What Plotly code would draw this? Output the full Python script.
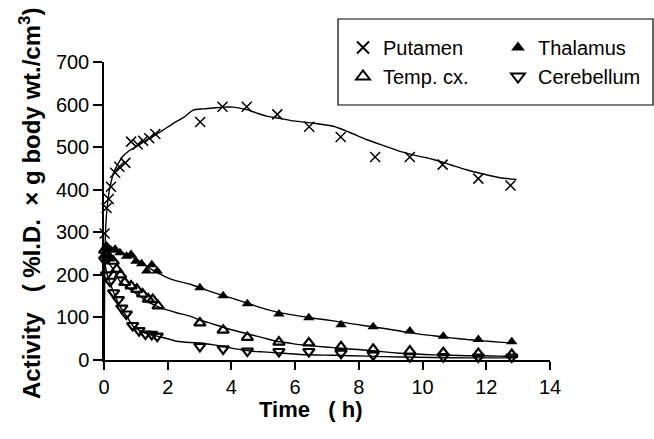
import plotly.graph_objects as go

# ---- measured data (time in h, activity in %I.D. x g body wt./cm^3) ----
put_t = [0.02, 0.08, 0.15, 0.22, 0.35, 0.48, 0.67, 0.85, 1.06, 1.23, 1.42, 1.61,
         3.02, 3.72, 4.48, 5.44, 6.44, 7.43, 8.51, 9.60, 10.63, 11.75, 12.76]
put_v = [297, 357, 378, 407, 440, 454, 463, 513, 506, 515, 521, 531,
         559, 595, 595, 577, 548, 524, 477, 477, 459, 426, 410]

thal_t = [0.02, 0.08, 0.15, 0.22, 0.35, 0.5, 0.71, 0.85, 1.0, 1.18, 1.34, 1.5, 1.67,
          3.01, 3.74, 4.50, 5.49, 6.43, 7.44, 8.45, 9.60, 10.65, 11.75, 12.8]
thal_v = [262, 268, 262, 258, 260, 252, 244, 248, 232, 226, 209, 224, 209,
          170, 151, 132, 108, 99, 83, 78, 68, 56, 48, 43]

temp_t = [0.02, 0.08, 0.15, 0.29, 0.40, 0.52, 0.65, 0.85, 1.03, 1.21, 1.39, 1.53, 1.70,
          3.01, 3.74, 4.50, 5.49, 6.43, 7.44, 8.45, 9.60, 10.65, 11.75, 12.8]
temp_v = [258, 250, 240, 232, 213, 200, 182, 174, 166, 155, 143, 142, 127,
          87, 70, 53, 42, 40, 31, 25, 21, 17, 15, 13]

cer_t = [0.02, 0.08, 0.19, 0.30, 0.45, 0.56, 0.70, 0.90, 1.10, 1.30, 1.50, 1.67,
         3.01, 3.74, 4.50, 5.49, 6.43, 7.44, 8.45, 9.60, 10.65, 11.75, 12.8]
cer_v = [235, 200, 185, 158, 142, 122, 108, 81, 69, 61, 60, 56,
         32, 26, 21, 20, 20, 16, 12, 8, 8, 7, 7]

# ---- fitted curves ----
put_fit_t = [0, 0.03, 0.06, 0.1, 0.15, 0.2, 0.3, 0.45, 0.6, 0.8, 1.03, 1.3, 1.55, 1.85,
             2.18, 2.5, 2.8, 3.1, 3.43, 3.75, 4.06, 4.48, 4.8, 5.1, 5.5, 5.84, 6.15,
             6.6, 7.2, 7.7, 8.24, 8.8, 9.29, 9.8, 10.34, 10.9, 11.38, 11.9, 12.43, 12.95]
put_fit_v = [0, 250, 320, 360, 390, 410, 440, 462, 479, 492, 502, 515, 526, 540,
             556, 570, 587, 590, 592, 594, 594, 588, 580, 573, 568, 563, 560,
             556, 549, 535, 518, 503, 490, 480, 471, 458, 447, 437, 428, 424]

thal_fit_t = [0, 0.03, 0.1, 0.2, 0.4, 0.71, 1.03, 1.34, 1.67, 2.0, 2.28, 2.7, 3.01, 3.5,
              4.06, 4.6, 5.1, 5.6, 6.15, 6.7, 7.2, 7.7, 8.24, 8.8, 9.29, 9.8, 10.34,
              10.9, 11.4, 11.9, 12.4, 12.95]
thal_fit_v = [0, 250, 266, 264, 256, 248, 236, 220, 205, 193, 186, 178, 170, 157,
              144, 131, 119, 110, 103, 97, 92, 86, 80, 74, 68, 62, 57,
              52, 48, 45, 42, 39]

temp_fit_t = [0, 0.03, 0.08, 0.18, 0.29, 0.5, 0.82, 1.13, 1.44, 1.67, 2.0, 2.28, 2.7,
              3.01, 3.4, 3.74, 4.15, 4.58, 5.0, 5.42, 5.8, 6.15, 6.7, 7.2, 7.7, 8.24,
              8.8, 9.29, 9.8, 10.34, 10.9, 11.4, 11.9, 12.4, 12.95]
temp_fit_v = [0, 250, 240, 225, 213, 185, 166, 150, 134, 126, 117, 111, 103,
              94, 85, 77, 68, 60, 52, 44, 40, 36, 32, 29, 26, 23,
              19, 16, 14, 12, 11, 10, 10, 9, 9]

cer_fit_t = [0, 0.03, 0.1, 0.19, 0.35, 0.5, 0.71, 0.92, 1.1, 1.23, 1.45, 1.67, 2.0,
             2.28, 2.7, 3.01, 3.4, 3.74, 4.15, 4.58, 5.0, 5.42, 6.15, 7.2, 8.24, 9.29,
             10.34, 11.4, 12.4, 12.95]
cer_fit_v = [0, 225, 200, 181, 150, 126, 103, 79, 70, 65, 60, 56, 50,
             44, 41, 40, 36, 32, 26, 21, 19, 17, 13, 11, 9, 7,
             6, 5, 5, 5]

x_ticks = [0, 2, 4, 6, 8, 10, 12, 14]
y_ticks = [0, 100, 200, 300, 400, 500, 600, 700]

FONT = "Liberation Sans, Arial, sans-serif"
W, H = 654, 439
L, R, T, B = 104, 104, 62, 79
NB = "\u00a0"

fig = go.Figure()

for ft, fv in [(put_fit_t, put_fit_v), (thal_fit_t, thal_fit_v),
               (temp_fit_t, temp_fit_v), (cer_fit_t, cer_fit_v)]:
    fig.add_trace(go.Scatter(x=ft, y=fv, mode="lines", showlegend=False,
                             line=dict(color="black", width=1.4, shape="spline", smoothing=0.6),
                             cliponaxis=False, hoverinfo="skip"))

series = [
    ("Putamen", put_t, put_v, dict(symbol="x-thin", size=10, line=dict(color="black", width=1.5))),
    ("Thalamus", thal_t, thal_v, dict(symbol="triangle-up", size=10, color="black",
                                       line=dict(color="black", width=0))),
    ("Temp. cx.", temp_t, temp_v, dict(symbol="triangle-up-open", size=10, color="black",
                                        line=dict(color="black", width=2.2))),
    ("Cerebellum", cer_t, cer_v, dict(symbol="triangle-down-open", size=10, color="black",
                                       line=dict(color="black", width=2.2))),
]
for name, xt, yv, mk in series:
    fig.add_trace(go.Scatter(x=xt, y=yv, mode="markers", name=name, marker=mk,
                             cliponaxis=False))

plot_w = W - L - R
plot_h = H - T - B

def px_x(p):
    return (p - L) / plot_w

def px_y(p):
    return (H - B - p) / plot_h

ytitle = ("<b>Activity" + NB * 3 + "(" + NB + "%I.D." + NB * 2 + "×" + NB + "g" + NB +
          "body" + NB + "wt./cm<sup>3</sup>)</b>")

fig.update_layout(
    width=W, height=H,
    margin=dict(l=L, r=R, t=T, b=B, autoexpand=False),
    paper_bgcolor="white", plot_bgcolor="white",
    font=dict(family=FONT, size=20, color="black"),
    showlegend=True,
    legend=dict(orientation="h", x=px_x(343), xanchor="left", y=px_y(28), yanchor="top",
                entrywidth=110, entrywidthmode="pixels", font=dict(size=20, family=FONT),
                bgcolor="rgba(0,0,0,0)", borderwidth=0, itemsizing="constant",
                tracegroupgap=0, traceorder="normal"),
    xaxis=dict(range=[0, 14], tickvals=x_ticks, ticktext=[str(v) for v in x_ticks],
               showgrid=False, zeroline=False, showline=True, linecolor="black", linewidth=1.5,
               ticks="outside", ticklen=8, tickwidth=1.5, tickcolor="black",
               tickfont=dict(size=20, family=FONT)),
    yaxis=dict(range=[0, 700], tickvals=y_ticks, ticktext=[str(v) for v in y_ticks],
               showgrid=False, zeroline=False, showline=True, linecolor="black", linewidth=1.5,
               ticks="outside", ticklen=9, tickwidth=1.5, tickcolor="black",
               tickfont=dict(size=20, family=FONT)),
    shapes=[dict(type="rect", xref="paper", yref="paper",
                 x0=px_x(338), x1=px_x(653), y0=px_y(105), y1=px_y(19),
                 line=dict(color="black", width=1.2), fillcolor="rgba(0,0,0,0)")],
    annotations=[
        dict(text="<b>Time" + NB * 3 + "(" + NB + "h)</b>", xref="paper", yref="paper",
             x=px_x(311), y=px_y(409), xanchor="center", yanchor="middle",
             showarrow=False, font=dict(size=22, family=FONT)),
        dict(text=ytitle, xref="paper", yref="paper",
             x=px_x(30), y=px_y(204), xanchor="center", yanchor="middle", textangle=-90,
             showarrow=False, font=dict(size=24, family=FONT)),
    ],
)

fig.write_html("out.html", config={"displayModeBar": False},
               post_script="document.body.style.margin='0px';")
